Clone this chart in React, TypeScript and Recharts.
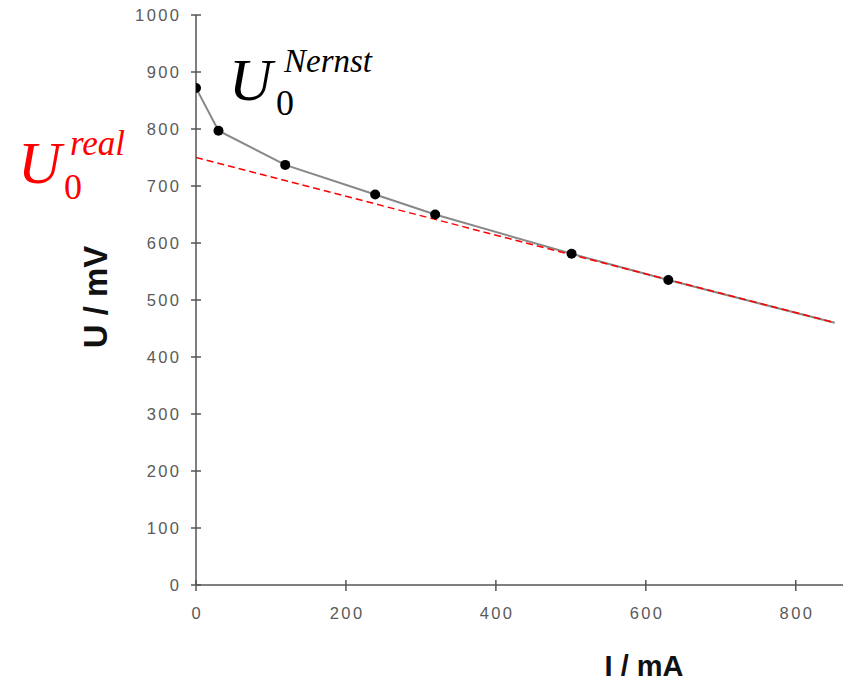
import {
  ComposedChart,
  Line,
  Scatter,
  XAxis,
  YAxis,
} from "recharts";

// measured fuel cell points (current in mA, voltage in mV)
const currentMA = [0, 30, 119, 239, 319, 501, 630];
const voltageMV = [872, 797, 737, 685, 650, 581, 535];

// the curve keeps going after the last measured point
const curveEndI = 852;
const curveEndU = 460;

// red dashed extrapolation of the linear part
const tangentI = [0, 852];
const tangentU = [750, 460];

const xTicks = [0, 200, 400, 600, 800];
const yTicks = [0, 100, 200, 300, 400, 500, 600, 700, 800, 900, 1000];

const AXIS_COLOR = "#555";
const TICK_FONT = "'Liberation Sans', Arial, sans-serif";
const TICK_SPACING = 2.4;

const measured = currentMA.map((i, idx) => ({ i, u: voltageMV[idx] }));
const curve = [...measured, { i: curveEndI, u: curveEndU }];
const tangent = tangentI.map((i, idx) => ({ i, u: tangentU[idx] }));

const YTick = (props: any) => {
  const { x, y, payload } = props;
  return (
    <g>
      <line x1={x - 5} x2={x + 5} y1={y} y2={y} stroke={AXIS_COLOR} strokeWidth={1.5} />
      <text
        x={x - 17 + TICK_SPACING}
        y={y + 6}
        textAnchor="end"
        fill="#5a5a5a"
        fontSize={16.5}
        letterSpacing={TICK_SPACING}
        fontFamily={TICK_FONT}
      >
        {payload.value}
      </text>
    </g>
  );
};

const XTick = (props: any) => {
  const { x, y, payload } = props;
  return (
    <g>
      <line x1={x} x2={x} y1={y - 5} y2={y + 6} stroke={AXIS_COLOR} strokeWidth={1.5} />
      <text
        x={x + TICK_SPACING / 2}
        y={y + 34}
        textAnchor="middle"
        fill="#5a5a5a"
        fontSize={16.5}
        letterSpacing={TICK_SPACING}
        fontFamily={TICK_FONT}
      >
        {payload.value}
      </text>
    </g>
  );
};

const Dot = (props: any) => <circle cx={props.cx} cy={props.cy} r={5} fill="#000" />;

export default function App() {
  return (
    <div style={{ position: "absolute", left: 0, top: 0, width: 843, height: 687, background: "#fff" }}>
      <ComposedChart
        width={843}
        height={687}
        margin={{ top: 15, right: 0, bottom: 0, left: 0 }}
      >
        <XAxis
          type="number"
          dataKey="i"
          domain={[0, 863]}
          ticks={xTicks}
          allowDataOverflow
          height={102}
          tickSize={0}
          tickMargin={0}
          tick={<XTick />}
          stroke={AXIS_COLOR}
          strokeWidth={1.5}
        />
        <YAxis
          type="number"
          dataKey="u"
          domain={[0, 1000]}
          ticks={yTicks}
          allowDataOverflow
          width={196}
          tickSize={0}
          tickMargin={0}
          tick={<YTick />}
          stroke={AXIS_COLOR}
          strokeWidth={1.5}
        />
        <Line
          data={curve}
          dataKey="u"
          type="linear"
          stroke="#888"
          strokeWidth={2}
          dot={false}
          activeDot={false}
          isAnimationActive={false}
        />
        <Scatter
          data={measured}
          dataKey="u"
          fill="#000"
          shape={<Dot />}
          isAnimationActive={false}
        />
        <Line
          data={tangent}
          dataKey="u"
          type="linear"
          stroke="#ff0000"
          strokeWidth={1.5}
          strokeDasharray="7 4"
          dot={false}
          activeDot={false}
          isAnimationActive={false}
        />
      </ComposedChart>

      <svg
        width={843}
        height={687}
        style={{ position: "absolute", left: 0, top: 0, pointerEvents: "none" }}
      >
        {/* axis titles */}
        <text
          x={644}
          y={676}
          textAnchor="middle"
          fontSize={29}
          fontWeight="bold"
          fontFamily="'Liberation Sans', Arial, sans-serif"
          fill="#111"
        >
          I / mA
        </text>
        <text
          transform="translate(107, 297) rotate(-90)"
          textAnchor="middle"
          fontSize={33}
          fontWeight="bold"
          fontFamily="'Liberation Sans', Arial, sans-serif"
          fill="#111"
        >
          U / mV
        </text>

        {/* U0 Nernst */}
        <g fontFamily="'Liberation Serif', 'Times New Roman', serif" fill="#000">
          <text x={229} y={100} fontSize={60} fontStyle="italic">U</text>
          <text x={284} y={72} fontSize={33} fontStyle="italic">Nernst</text>
          <text x={276} y={115} fontSize={36}>0</text>
        </g>

        {/* U0 real */}
        <g fontFamily="'Liberation Serif', 'Times New Roman', serif" fill="#ff0000">
          <text x={18} y={183} fontSize={60} fontStyle="italic">U</text>
          <text x={70} y={155} fontSize={35} fontStyle="italic">real</text>
          <text x={64} y={199} fontSize={36}>0</text>
        </g>
      </svg>
    </div>
  );
}
